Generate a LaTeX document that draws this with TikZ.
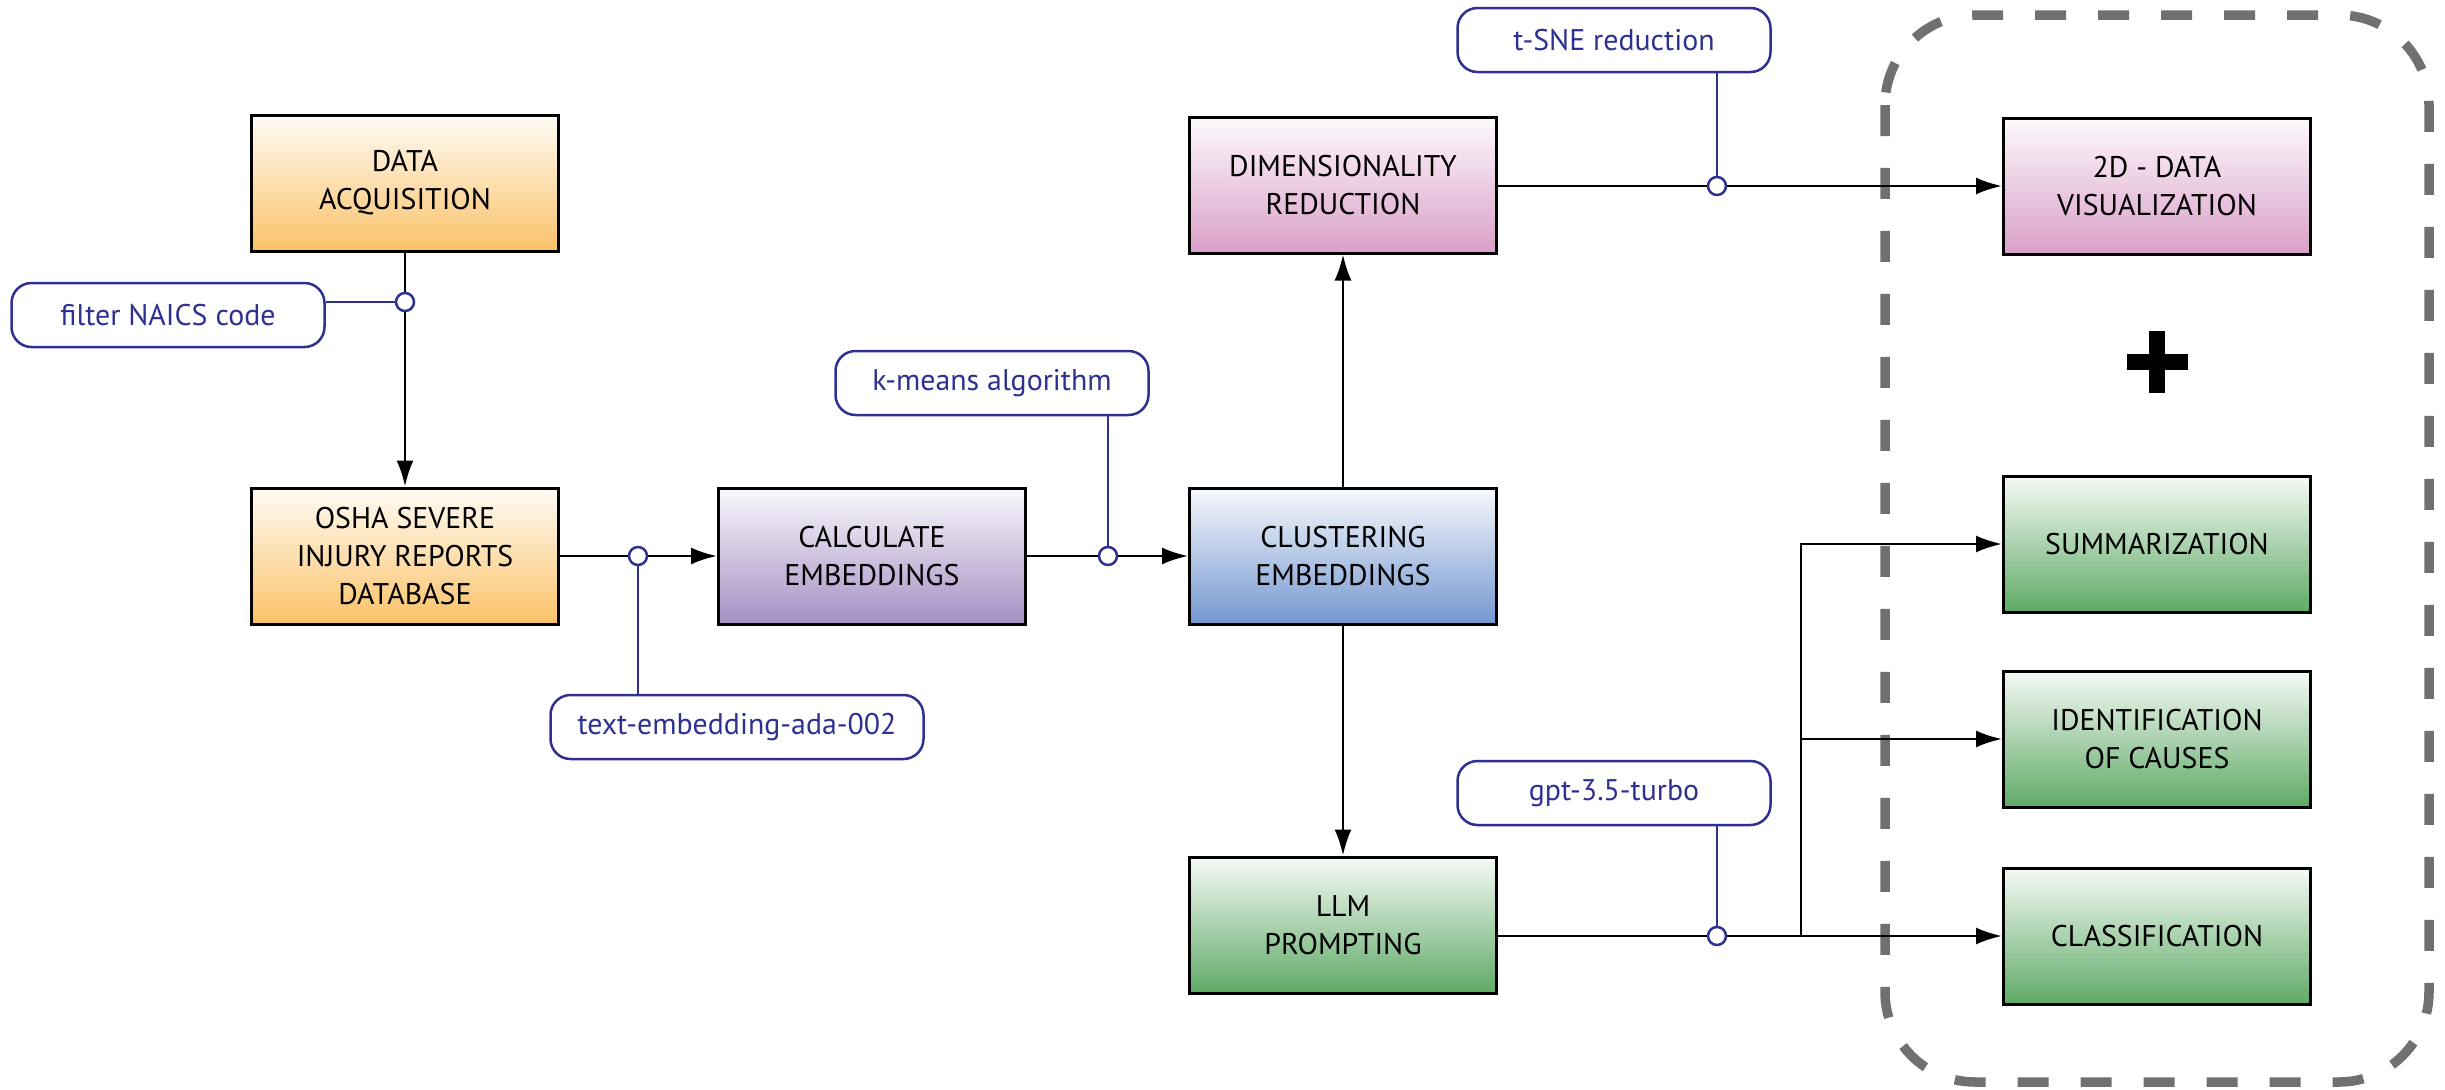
\documentclass[tikz,border=0pt]{standalone}
\usepackage{fontspec}
\setmainfont{PT Sans}
\usetikzlibrary{positioning,arrows.meta}
\definecolor{tagblue}{RGB}{46,49,146}
\definecolor{acqorange}{RGB}{250,194,104}
\definecolor{calcpurple}{RGB}{165,143,196}
\definecolor{clusblue}{RGB}{115,151,208}
\definecolor{dimpink}{RGB}{218,160,201}
\definecolor{llmgreen}{RGB}{95,170,102}
\definecolor{boxgray}{RGB}{112,112,112}
\tikzset{line/.style={draw, -{Latex[length=2.6mm,width=1.7mm]}, line width=0.25mm},
         wire/.style={draw, line width=0.25mm}}

\begin{document}
\begin{tikzpicture}[x=0.1mm, y=-0.1mm, font=\fontsize{8.5}{10.8}\selectfont,
  stage/.style={draw, line width=0.3mm, minimum width=30.7mm, minimum height=13.6mm, align=center, top color=#1!6!white, bottom color=#1},
  tag/.style={draw=tagblue, text=tagblue, fill=white, line width=0.25mm, rounded corners=2mm, minimum height=6.4mm},
  dot/.style={circle, draw=tagblue, fill=white, line width=0.25mm, minimum size=1.8mm, inner sep=0pt}]
\useasboundingbox (0,0) rectangle (2445,1090);
% output group
\draw[boxgray, line width=0.95mm, dash pattern=on 3.1mm off 3.2mm, rounded corners=9mm] (1885,15) rectangle (2429,1082);
\fill (2127,354) rectangle (2188,370);
\fill (2149,331) rectangle (2165,393);
% stages
\node[stage=acqorange] (1) at (405,183) {DATA\\ACQUISITION};
\node[stage=acqorange] (2) at (405,556) {OSHA SEVERE\\INJURY REPORTS\\DATABASE};
\node[stage=calcpurple] (3) at (872,556) {CALCULATE\\EMBEDDINGS};
\node[stage=clusblue] (4) at (1343,556) {CLUSTERING\\EMBEDDINGS};
\node[stage=dimpink] (5) at (1343,185) {DIMENSIONALITY\\REDUCTION};
\node[stage=llmgreen] (6) at (1343,925) {LLM\\PROMPTING};
\node[stage=dimpink] (7) at (2157,186) {2D - DATA\\VISUALIZATION};
\node[stage=llmgreen] (8) at (2157,544) {SUMMARIZATION};
\node[stage=llmgreen] (9) at (2157,739) {IDENTIFICATION\\OF CAUSES};
\node[stage=llmgreen] (10) at (2157,936) {CLASSIFICATION};
% tools
\node[tag, minimum width=31.3mm] (t1) at (168,315) {filter NAICS code};
\node[tag, minimum width=37.3mm] (t2) at (737,727) {text-embedding-ada-002};
\node[tag, minimum width=31.3mm] (t3) at (992,383) {k-means algorithm};
\node[tag, minimum width=31.3mm] (t4) at (1614,40) {t-SNE reduction};
\node[tag, minimum width=31.3mm] (t5) at (1614,793) {gpt-3.5-turbo};
\node[dot] (c1) at (405,302) {};
\node[dot] (c2) at (638,556) {};
\node[dot] (c3) at (1108,556) {};
\node[dot] (c4) at (1717,186) {};
\node[dot] (c5) at (1717,936) {};
\coordinate (b) at (1801,936);
% flow
\draw[wire] (1) -- (c1);
\draw[line] (c1) -- (2);
\draw[wire] (2) -- (c2);
\draw[line] (c2) -- (3);
\draw[wire] (3) -- (c3);
\draw[line] (c3) -- (4);
\draw[line] (4) -- (5);
\draw[line] (4) -- (6);
\draw[wire] (5.east|-c4) -- (c4);
\draw[line] (c4) -- (7);
\draw[wire] (6.east|-c5) -- (c5);
\draw[line] (c5) -- (10);
\draw[line] (b) |- (8);
\draw[line] (b|-9) -- (9);
% tool links
\draw[tagblue, line width=0.2mm] (t1.east|-c1) -- (c1);
\draw[tagblue, line width=0.2mm] (c2) -- (c2|-t2.north);
\draw[tagblue, line width=0.2mm] (c3) -- (c3|-t3.south);
\draw[tagblue, line width=0.2mm] (c4) -- (c4|-t4.south);
\draw[tagblue, line width=0.2mm] (c5) -- (c5|-t5.south);
\end{tikzpicture}
\end{document}
